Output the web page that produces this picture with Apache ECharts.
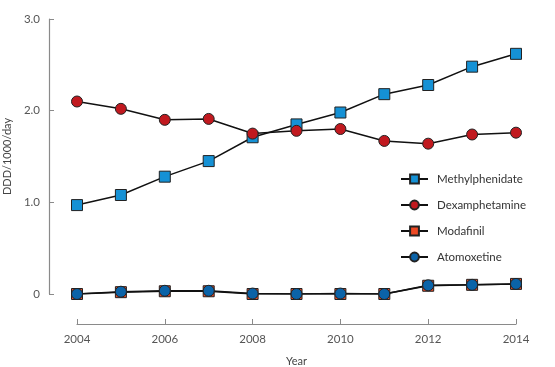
<!DOCTYPE html>
<html><head><meta charset="utf-8">
<script src="https://cdn.jsdelivr.net/npm/echarts@6/dist/echarts.min.js"></script>
<style>html,body{margin:0;padding:0;background:#fff}#c{width:555px;height:367px}</style>
</head><body><div id="c"></div>
<script>
const years = [2004,2005,2006,2007,2008,2009,2010,2011,2012,2013,2014];
const methylphenidate = [0.97,1.08,1.28,1.45,1.71,1.85,1.98,2.18,2.28,2.48,2.62];
const dexamphetamine = [2.10,2.02,1.90,1.91,1.75,1.78,1.80,1.67,1.64,1.74,1.76];
const modafinil = [0.00,0.02,0.03,0.03,0.00,0.00,0.00,0.00,0.09,0.10,0.11];
const atomoxetine = [0.00,0.025,0.035,0.035,0.005,0.00,0.005,0.00,0.095,0.10,0.11];
const yTickLabels = {0:'0',1:'1.0',2:'2.0',3:'3.0'};
const seriesNames = ['Methylphenidate','Dexamphetamine','Modafinil','Atomoxetine'];

const font = 'Lato, "Open Sans", sans-serif';
const chart = echarts.init(document.getElementById('c'));
const pair = arr => years.map((y,i)=>[y,arr[i]]);
function mk(name, data, symbol, color){
  return {
    name, type:'line', data: pair(data), symbol, symbolSize: 11,
    lineStyle:{color:'#111', width:1.5},
    itemStyle:{color, borderColor:'#222', borderWidth:1},
    emphasis:{disabled:true}, animation:false, z: 2
  };
}
chart.setOption({
  animation:false,
  textStyle:{fontFamily:font},
  grid:{left:77, right:39, top:19, bottom:73, containLabel:false, outerBoundsMode:'none'},
  legend:{
    data: seriesNames, orient:'vertical', left:395, top:168,
    itemWidth:27, itemHeight:11, itemGap:14,
    textStyle:{fontFamily:font, fontSize:11.5, color:'#333', padding:[0,0,0,4]}
  },
  xAxis:{
    type:'value', min:2004, max:2014, interval:2, offset:30,
    name:'Year', nameLocation:'middle', nameGap:32,
    nameTextStyle:{fontFamily:font, fontSize:11, color:'#444'},
    axisLine:{onZero:false, lineStyle:{color:'#8a8a8a', width:1.2}},
    axisTick:{inside:true, length:5, lineStyle:{color:'#8a8a8a'}},
    axisLabel:{color:'#555', fontSize:11.5, margin:9, fontFamily:font, formatter:v=>String(v)},
    splitLine:{show:false}
  },
  yAxis:{
    type:'value', min:0, max:3, interval:1, offset:28,
    name:'DDD/1000/day', nameLocation:'middle', nameGap:35, nameRotate:90,
    nameTextStyle:{fontFamily:font, fontSize:11, color:'#444'},
    axisLine:{show:true, onZero:false, lineStyle:{color:'#8a8a8a', width:1.2}},
    axisTick:{show:true, inside:true, length:5, lineStyle:{color:'#8a8a8a'}},
    axisLabel:{color:'#555', fontSize:11.5, margin:9, fontFamily:font, formatter:v=>yTickLabels[v] ?? ''},
    splitLine:{show:false}
  },
  series:[
    mk('Methylphenidate', methylphenidate, 'rect', '#1591d5'),
    mk('Dexamphetamine', dexamphetamine, 'circle', '#c1191f'),
    mk('Modafinil', modafinil, 'rect', '#ee4a25'),
    mk('Atomoxetine', atomoxetine, 'circle', '#0b63a8')
  ]
});
</script></body></html>
